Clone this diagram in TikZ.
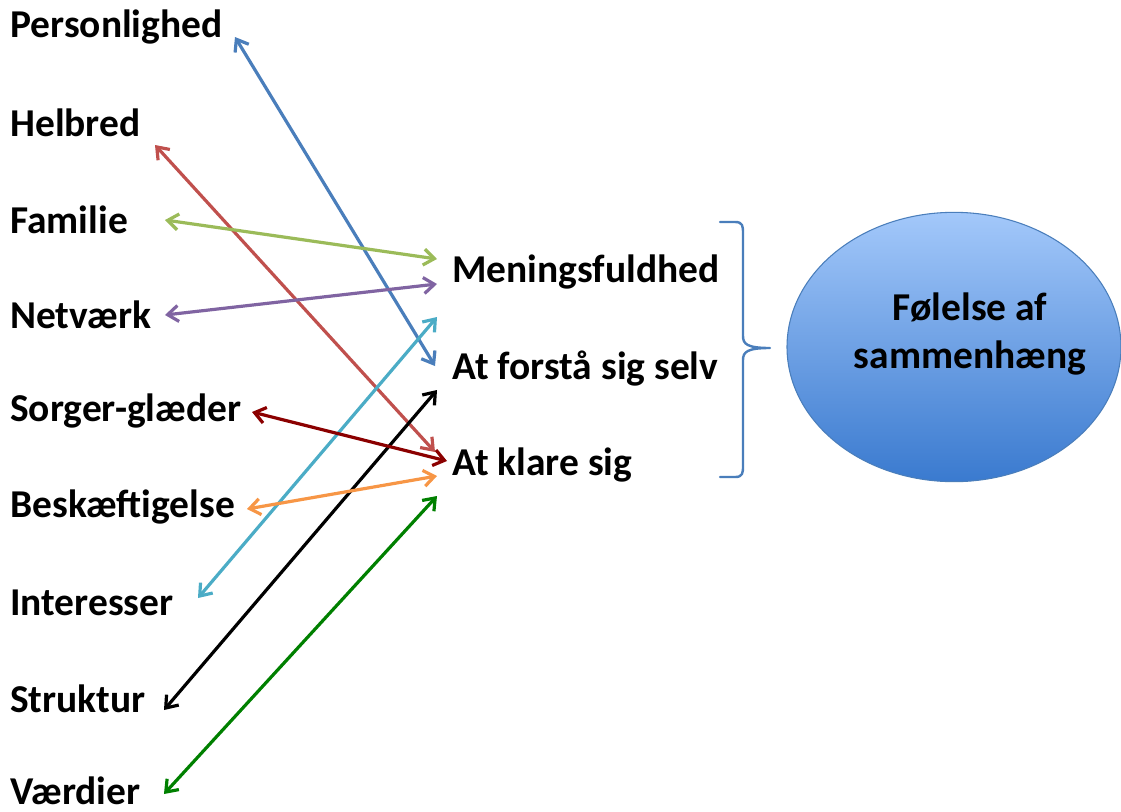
\documentclass[tikz,border=0pt]{standalone}
\usepackage{fontspec}
\setmainfont{Carlito}
\usetikzlibrary{arrows.meta,shapes.geometric}
\definecolor{cblue}{HTML}{4A7EBB}
\definecolor{cred}{HTML}{C0504D}
\definecolor{cgreen}{HTML}{9BBB59}
\definecolor{cpurple}{HTML}{8064A2}
\definecolor{ccyan}{HTML}{4BACC6}
\definecolor{cmaroon}{HTML}{8B0000}
\definecolor{corange}{HTML}{F79646}
\definecolor{cdkgreen}{HTML}{008000}
\definecolor{ovaltop}{HTML}{A3C8FA}
\definecolor{ovalbot}{HTML}{3A7ACF}
\begin{document}
\begin{tikzpicture}[x=0.75pt,y=-0.75pt,
  lbl/.style={font=\fontsize{29.6pt}{34pt}\selectfont\bfseries,inner sep=0pt,anchor=west},
  link/.style={line width=2.4pt,{Straight Barb[length=8pt,width=12pt,line width=2.4pt]}-{Straight Barb[length=8pt,width=12pt,line width=2.4pt]}}]
\useasboundingbox (0,0) rectangle (1121,811);
% left-hand factors
\node[lbl] (pers) at (10,27) {Personlighed};
\node[lbl] (helb) at (10,123) {Helbred};
\node[lbl] (fam)  at (10,220) {Familie};
\node[lbl] (net)  at (10,315) {Netværk};
\node[lbl] (sorg) at (10,411) {Sorger-glæder};
\node[lbl] (besk) at (10,507) {Beskæftigelse};
\node[lbl] (int)  at (10,603) {Interesser};
\node[lbl] (strk) at (10,699) {Struktur};
\node[lbl] (vaer) at (10,791) {Værdier};
% the three components
\node[lbl] (men) at (452,272) {Meningsfuldhed};
\node[lbl] (for) at (452,369) {At forstå sig selv};
\node[lbl] (kla) at (452,465) {At klare sig};
% arrow end points
\coordinate (pers-e) at (235,37);
\coordinate (helb-e) at (155,145);
\coordinate (fam-e)  at (165,220);
\coordinate (net-e)  at (165,315);
\coordinate (sorg-e) at (252,412);
\coordinate (besk-e) at (247,509);
\coordinate (int-e)  at (198,598);
\coordinate (strk-e) at (164,710);
\coordinate (vaer-e) at (164,794);
\coordinate (men-a) at (437,259);
\coordinate (men-b) at (437,284);
\coordinate (for-a) at (437,317);
\coordinate (for-b) at (435,366);
\coordinate (for-c) at (437,390);
\coordinate (kla-a) at (435,452);
\coordinate (kla-b) at (447,461);
\coordinate (kla-c) at (437,476);
\coordinate (kla-d) at (437,496);
% connections
\draw[link,cblue]    (pers-e) -- (for-b);
\draw[link,cred]     (helb-e) -- (kla-a);
\draw[link,cgreen]   (fam-e)  -- (men-a);
\draw[link,cpurple]  (net-e)  -- (men-b);
\draw[link,ccyan]    (int-e)  -- (for-a);
\draw[link,black]    (strk-e) -- (for-c);
\draw[link,cmaroon]  (sorg-e) -- (kla-b);
\draw[link,corange]  (besk-e) -- (kla-c);
\draw[link,cdkgreen] (vaer-e) -- (kla-d);
% brace
\coordinate (brtip) at (770,348);
\draw[cblue,line width=1.8pt,line cap=round,line join=round]
  (720,222) -- (735,222) .. controls (743,222) and (743,226) .. (743,234)
  -- (743,336) .. controls (743,344) and (747,348) .. (brtip)
  .. controls (747,348) and (743,352) .. (743,360)
  -- (743,465) .. controls (743,473) and (743,477) .. (735,477) -- (720,477);
% result oval
\node[ellipse,minimum width=250.5pt,minimum height=202pt,inner sep=0pt,
      draw=cblue,line width=0.8pt,top color=ovaltop,bottom color=ovalbot]
  (oval) at (954,347) {};
\node[align=center,inner sep=0pt,font=\fontsize{29.6pt}{36pt}\selectfont\bfseries]
  (ovaltext) at (970,334) {Følelse af\\sammenhæng};
\end{tikzpicture}
\end{document}
